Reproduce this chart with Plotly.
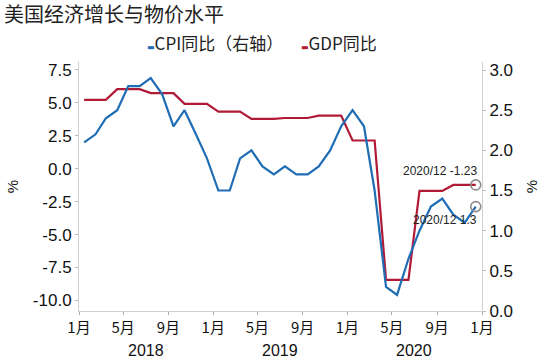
import plotly.graph_objects as go

months = [f"{y}-{m:02d}-15" for y in (2018, 2019, 2020) for m in range(1, 13)]

cpi = [2.1, 2.2, 2.4, 2.5, 2.8, 2.8, 2.9, 2.7, 2.3, 2.5, 2.2, 1.9,
       1.5, 1.5, 1.9, 2.0, 1.8, 1.7, 1.8, 1.7, 1.7, 1.8, 2.0, 2.3,
       2.5, 2.3, 1.5, 0.3, 0.2, 0.65, 1.0, 1.3, 1.4, 1.2, 1.1, 1.3]

gdp_q = [5.23, 6.04, 5.74, 4.92,
         4.34, 3.78, 3.85, 4.03,
         2.14, -8.43, -1.68, -1.23]
gdp = [v for v in gdp_q for _ in range(3)]

tick_vals = ["2018-01-01", "2018-05-01", "2018-09-01", "2019-01-01", "2019-05-01",
             "2019-09-01", "2020-01-01", "2020-05-01", "2020-09-01", "2021-01-01"]
tick_text = ["1月", "5月", "9月", "1月", "5月", "9月", "1月", "5月", "9月", "1月"]
year_pos = ["2018-07-01", "2019-07-01", "2020-07-01"]
year_text = ["2018", "2019", "2020"]
left_ticks = [7.5, 5.0, 2.5, 0.0, -2.5, -5.0, -7.5, -10.0]
right_ticks = [0, 0.5, 1.0, 1.5, 2.0, 2.5, 3.0]

BLUE = "#1f6db5"
RED = "#b01a36"
AX = "#d0d0d0"
FONT = "Liberation Sans, Arial, sans-serif"
CJK = "Noto Sans CJK SC"

fig = go.Figure()
fig.add_trace(go.Scatter(x=months, y=gdp, mode="lines", name="GDP同比",
                         line=dict(color=RED, width=2.2), yaxis="y"))
fig.add_trace(go.Scatter(x=months, y=cpi, mode="lines", name="CPI同比（右轴）",
                         line=dict(color=BLUE, width=2.2), yaxis="y2"))
# end markers
fig.add_trace(go.Scatter(x=[months[-1]], y=[gdp[-1]], mode="markers", yaxis="y",
                         marker=dict(symbol="circle-open", size=10, color="#8c8c8c",
                                     line=dict(color="#8c8c8c", width=1.6))))
fig.add_trace(go.Scatter(x=[months[-1]], y=[cpi[-1]], mode="markers", yaxis="y2",
                         marker=dict(symbol="circle-open", size=10, color="#8c8c8c",
                                     line=dict(color="#8c8c8c", width=1.6))))

annotations = []
annotations.append(dict(x=months[-1], y=gdp[-1], xref="x", yref="y",
                        text=f"2020/12 {gdp[-1]}", showarrow=False,
                        xanchor="right", yanchor="bottom", yshift=5, xshift=3,
                        font=dict(family=FONT, size=12, color="#222")))
annotations.append(dict(x=months[-1], y=cpi[-1], xref="x", yref="y2",
                        text=f"2020/12 {cpi[-1]}", showarrow=False,
                        xanchor="right", yanchor="top", yshift=-4, xshift=3,
                        font=dict(family=FONT, size=12, color="#222")))
for xp, yt in zip(year_pos, year_text):
    annotations.append(dict(x=xp, y=0, xref="x", yref="paper", text=yt,
                            showarrow=False, yanchor="middle", yshift=-39,
                            font=dict(family=FONT, size=16, color="#111")))
# legend as text
DASH = "<span style='font-family:DejaVu Sans;font-size:8px;color:{c}'>▬</span>"
annotations.append(dict(x=(146 - 79) / 408.7, y=(311 - 43) / 249, xref="paper", yref="paper",
                        text=DASH.format(c=BLUE) + "CPI同比（右轴）",
                        showarrow=False, xanchor="left", yanchor="middle",
                        font=dict(family=CJK, size=17, color="#222")))
annotations.append(dict(x=(302 - 79) / 408.7, y=(311 - 43) / 249, xref="paper", yref="paper",
                        text=DASH.format(c=RED) + "GDP同比",
                        showarrow=False, xanchor="left", yanchor="middle",
                        font=dict(family=CJK, size=17, color="#222")))

fig.update_layout(
    width=550, height=358,
    margin=dict(l=79, r=62, t=62, b=47),
    paper_bgcolor="white", plot_bgcolor="white",
    showlegend=False,
    title=dict(text="美国经济增长与物价水平", x=4 / 550, xanchor="left",
               y=1 - 15 / 358, yanchor="middle",
               font=dict(family=CJK, size=20, color="#222")),
    xaxis=dict(type="date", range=["2018-01-01", "2021-01-01"],
               tickvals=tick_vals, ticktext=tick_text,
               showgrid=False, zeroline=False,
               showline=True, linecolor=AX, linewidth=1,
               ticks="outside", ticklen=3, tickcolor="#aaa",
               tickfont=dict(family=CJK, size=15, color="#111")),
    yaxis=dict(range=[-10.8, 8.1], tickvals=left_ticks,
               ticktext=[f"{v:.1f}" for v in left_ticks],
               showgrid=False, zeroline=False,
               showline=True, linecolor=AX, linewidth=1,
               ticks="outside", ticklen=3, tickcolor="#bbb",
               tickfont=dict(family=FONT, size=17, color="#111"),
               title=dict(text="%", font=dict(family=FONT, size=15, color="#111"), standoff=10)),
    yaxis2=dict(range=[0, 3.1], tickvals=right_ticks,
                ticktext=[f"{v:.1f}" for v in right_ticks],
                overlaying="y", side="right",
                showgrid=False, zeroline=False,
                showline=True, linecolor=AX, linewidth=1,
                ticks="outside", ticklen=3, tickcolor="#bbb",
                tickfont=dict(family=FONT, size=17, color="#111"),
                title=dict(text="%", font=dict(family=FONT, size=15, color="#111"), standoff=14)),
    annotations=annotations,
)

fig.write_html("out.html", config={"displayModeBar": False},
               post_script="document.body.style.margin='0';")
